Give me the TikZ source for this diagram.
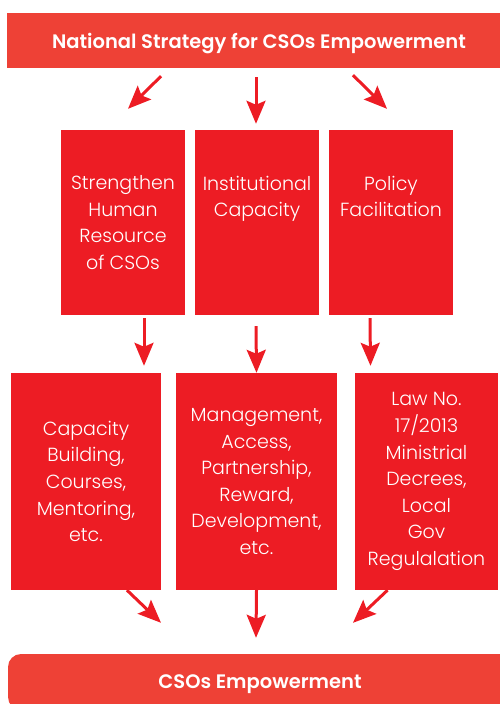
\documentclass[tikz,border=0pt]{standalone}
\usepackage{fontspec}
\newfontfamily\boxfont{Poppins Light}
\newfontfamily\headfont{Poppins SemiBold}
\usetikzlibrary{arrows.meta,positioning}

\definecolor{bannerred}{RGB}{238,65,54}
\definecolor{boxred}{RGB}{237,28,36}

\begin{document}
\begin{tikzpicture}[x=1pt, y=-1pt]
  \tikzstyle{banner} = [fill=bannerred, text=white, font=\headfont\fontsize{19.5}{22}\selectfont, inner sep=0pt, text depth=0pt]
  \tikzstyle{box} = [fill=boxred, text=white, inner sep=0pt, font=\boxfont\fontsize{19}{26.6}\selectfont, align=center]
  \tikzstyle{arr} = [boxred, line width=3pt, -{Stealth[length=23pt, width=19pt, inset=4pt]}]
  \useasboundingbox (0,0) rectangle (500,704);

  % top and bottom banners
  \node (top) [banner, minimum width=504pt, minimum height=55pt] at (259,40.5) {National Strategy for CSOs Empowerment};
  \node (end) [banner, rounded corners=13pt, minimum width=504pt, minimum height=56pt] at (260,682) {CSOs Empowerment};

  % three strategies
  \node (hr) [box, minimum width=124pt, minimum height=185pt] at (123,222.5)
    {Strengthen\\Human\\Resource\\of CSOs};
  \node (inst) [box, minimum width=124pt, minimum height=185pt] at (257,222.5)
    {\parbox[c][185pt][t]{120pt}{\centering\vspace{46pt}Institutional\\Capacity}};
  \node (pol) [box, minimum width=124pt, minimum height=185pt] at (391,222.5)
    {\parbox[c][185pt][t]{120pt}{\centering\vspace{46pt}Policy\\Facilitation}};

  % what each one covers
  \node (cap) [box, minimum width=150pt, minimum height=217pt] at (86,481.5)
    {Capacity\\Building,\\Courses,\\Mentoring,\\etc.};
  \node (mgmt) [box, minimum width=161pt, minimum height=217pt] at (256.5,481.5)
    {Management,\\Access,\\Partnership,\\Reward,\\Development,\\etc.};
  \node (law) [box, minimum width=143pt, minimum height=217pt] at (426.5,481.5)
    {Law No.\\17/2013\\Ministrial\\Decrees,\\Local\\Gov\\Regulalation};

  \draw[arr] ([shift={(-98,8)}]top.south) -- ([shift={(5,-21)}]hr.north);
  \draw[arr] ([shift={(-3,9)}]top.south) -- ([shift={(-1,-6)}]inst.north);
  \draw[arr] ([shift={(94,7)}]top.south) -- ([shift={(-4,-21)}]pol.north);

  \draw[arr] ([shift={(21,3)}]hr.south) -- ([shift={(58,-7)}]cap.north);
  \draw[arr] ([shift={(-1,11)}]inst.south) -- (mgmt.north);
  \draw[arr] ([shift={(-21,3)}]pol.south) -- ([shift={(-56,-7)}]law.north);

  \draw[arr] ([shift={(41,0)}]cap.south) -- ([shift={(-99,-31)}]end.north);
  \draw[arr] (mgmt.south) -- ([shift={(-4,-16)}]end.north);
  \draw[arr] ([shift={(-39,0)}]law.south) -- ([shift={(93,-31)}]end.north);
\end{tikzpicture}
\end{document}
